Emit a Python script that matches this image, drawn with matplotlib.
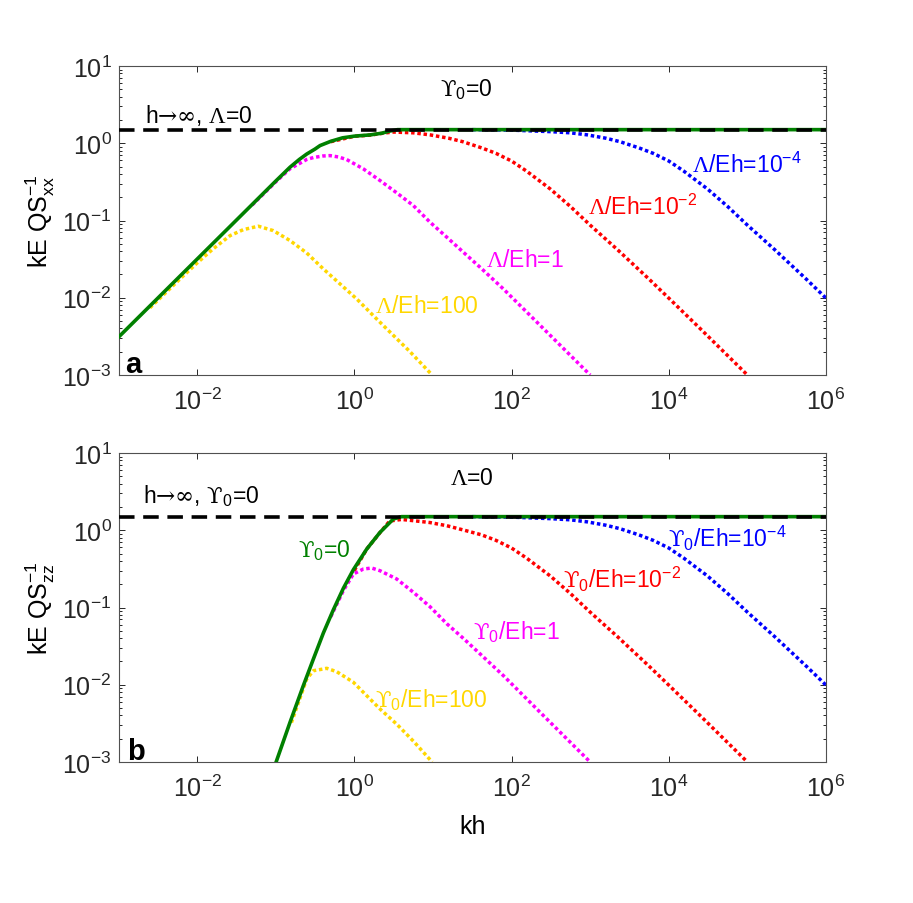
import numpy as np
import matplotlib
matplotlib.use("Agg")
import matplotlib.pyplot as plt
from matplotlib.ticker import FixedLocator, LogLocator, NullLocator, LogFormatterSciNotation

plt.rcParams['font.family'] = ['Liberation Sans', 'DejaVu Sans']
plt.rcParams['mathtext.fontset'] = 'custom'
plt.rcParams['mathtext.rm'] = 'Liberation Serif'
plt.rcParams['mathtext.cal'] = 'DejaVu Serif'
plt.rcParams['mathtext.sf'] = 'Liberation Sans'
plt.rcParams['mathtext.it'] = 'Liberation Sans:italic'

W, H = 913, 904

# ---------------- data (log10 kh, log10 kE Q S^-1) ----------------
asym_x = [1e-3, 1e6]
asym_y = [1.5, 1.5]

# panel a  (S_xx, Upsilon0 = 0)
a_green_lx = [-3.0, -2.5, -2.0, -1.5, -1.0, -0.818, -0.7, -0.606, -0.5, -0.436, -0.3, -0.15,
              0.0, 0.2, 0.35, 0.45, 0.55, 6.0]
a_green_ly = [-2.51, -2.005, -1.50, -0.995, -0.49, -0.31, -0.21, -0.14, -0.075, -0.03, 0.025, 0.07,
              0.092, 0.108, 0.13, 0.158, 0.176, 0.176]

a_yellow_lx = [-2.6, -2.2, -2.0, -1.8, -1.581, -1.412, -1.221, -1.031, -0.818, -0.606, -0.394, -0.182,
               0.031, 0.242, 0.391, 0.7, 0.99]
a_yellow_ly = [-2.13, -1.74, -1.55, -1.37, -1.196, -1.118, -1.074, -1.131, -1.26, -1.42, -1.627, -1.821,
               -2.016, -2.232, -2.382, -2.69, -3.0]

a_magenta_lx = [-1.3, -1.0, -0.818, -0.606, -0.521, -0.4, -0.309, -0.2, -0.097, 0.115, 0.327, 0.539,
                0.751, 0.963, 1.176, 1.387, 1.599, 1.896, 2.4, 3.0]
a_magenta_ly = [-0.80, -0.50, -0.33, -0.21, -0.185, -0.165, -0.16, -0.178, -0.211, -0.332, -0.483, -0.642,
                -0.807, -1.022, -1.216, -1.411, -1.605, -1.886, -2.394, -3.0]

a_red_lx = [-0.3, 0.0, 0.2, 0.4, 0.5, 0.75, 0.96, 1.2, 1.38, 1.62, 1.8, 2.0, 2.19, 2.49, 2.75, 3.0,
            3.35, 3.75, 4.0, 4.4, 5.0]
a_red_ly = [0.02, 0.09, 0.105, 0.135, 0.145, 0.135, 0.109, 0.065, 0.02, -0.06, -0.13, -0.23, -0.36,
            -0.59, -0.82, -1.06, -1.38, -1.76, -2.005, -2.40, -3.0]

a_blue_lx = [1.5, 2.0, 2.5, 2.75, 2.96, 3.2, 3.38, 3.62, 3.8, 4.0, 4.19, 4.49, 4.75, 5.0, 5.35, 5.75, 6.0]
a_blue_ly = [0.176, 0.170, 0.150, 0.135, 0.109, 0.065, 0.02, -0.06, -0.13, -0.23, -0.36, -0.59, -0.82,
             -1.06, -1.38, -1.76, -2.005]

# panel b  (S_zz, Lambda = 0)
b_green_lx = [-1.05, -0.988, -0.818, -0.649, -0.521, -0.394, -0.267, -0.139, -0.012, 0.158, 0.327,
              0.497, 0.6, 6.0]
b_green_ly = [-3.16, -2.98, -2.486, -2.012, -1.667, -1.33, -1.03, -0.75, -0.51, -0.243, -0.027,
              0.146, 0.176, 0.176]

b_yellow_lx = [-0.8, -0.649, -0.606, -0.521, -0.394, -0.351, -0.224, -0.012, 0.158, 0.327, 0.539,
               0.751, 0.99]
b_yellow_ly = [-2.49, -2.05, -1.926, -1.818, -1.796, -1.787, -1.831, -1.968, -2.142, -2.314, -2.51,
               -2.73, -3.0]

b_magenta_lx = [-0.3, -0.139, -0.012, 0.115, 0.221, 0.327, 0.539, 0.751, 0.963, 1.176, 1.387, 1.599,
                1.9, 2.4, 3.0]
b_magenta_ly = [-1.12, -0.78, -0.566, -0.502, -0.489, -0.524, -0.631, -0.803, -0.99, -1.21, -1.40,
                -1.60, -1.886, -2.394, -3.0]

b_red_lx = [0.0, 0.158, 0.327, 0.45, 0.6, 0.751, 0.96, 1.175, 1.4, 1.62, 1.8, 2.0, 2.19, 2.49, 2.75,
            3.0, 3.35, 3.75, 4.0, 4.4, 5.0]
b_red_ly = [-0.52, -0.243, -0.03, 0.12, 0.14, 0.124, 0.10, 0.059, 0.0, -0.06, -0.13, -0.23, -0.36,
            -0.59, -0.82, -1.06, -1.38, -1.76, -2.005, -2.40, -3.0]

b_blue_lx = [1.5, 2.0, 2.5, 2.75, 2.96, 3.2, 3.38, 3.62, 3.8, 4.0, 4.19, 4.49, 4.75, 5.0, 5.35, 5.75, 6.0]
b_blue_ly = [0.176, 0.170, 0.150, 0.135, 0.109, 0.065, 0.02, -0.06, -0.13, -0.23, -0.36, -0.59, -0.82,
             -1.06, -1.38, -1.76, -2.005]

xticks = [1e-2, 1e0, 1e2, 1e4, 1e6]
xlim = (1e-3, 1e6)
ylim = (1e-3, 1e1)

GREEN = '#008000'
YELLOW = '#FFD700'
MAGENTA = '#FF00FF'
RED = '#FF0000'
BLUE = '#0000FF'

UPS = r'\mathcal{ϒ}'
ARROW = r'$\mathcal{→∞}$'

# ---------------- figure ----------------
fig = plt.figure(figsize=(W / 100, H / 100), dpi=100)
ax1 = fig.add_axes([118.5 / W, 1 - 376 / H, (826 - 118.5) / W, (376 - 67) / H])
ax2 = fig.add_axes([118.5 / W, 1 - 763 / H, (826 - 118.5) / W, (763 - 454) / H])

dot = (0, (1, 0.8))
dash = (0, (4.3, 2.4))


def p(v):
    return 10 ** np.asarray(v, dtype=float)


def draw(ax, curves, green):
    for lx, ly, c in curves:
        ax.plot(p(lx), p(ly), color=c, lw=2.5, linestyle=dot, zorder=2)
    ax.plot(p(green[0]), p(green[1]), color=GREEN, lw=2.6, zorder=3)
    ax.plot(asym_x, asym_y, color='k', lw=2.6, linestyle=dash, zorder=4)


draw(ax1, [(a_yellow_lx, a_yellow_ly, YELLOW), (a_magenta_lx, a_magenta_ly, MAGENTA),
           (a_red_lx, a_red_ly, RED), (a_blue_lx, a_blue_ly, BLUE)], (a_green_lx, a_green_ly))
draw(ax2, [(b_yellow_lx, b_yellow_ly, YELLOW), (b_magenta_lx, b_magenta_ly, MAGENTA),
           (b_red_lx, b_red_ly, RED), (b_blue_lx, b_blue_ly, BLUE)], (b_green_lx, b_green_ly))

for ax in (ax1, ax2):
    ax.set_xscale('log')
    ax.set_yscale('log')
    ax.set_xlim(*xlim)
    ax.set_ylim(*ylim)
    ax.xaxis.set_major_locator(FixedLocator(xticks))
    ax.xaxis.set_minor_locator(NullLocator())
    ax.xaxis.set_major_formatter(LogFormatterSciNotation())
    ax.yaxis.set_major_locator(LogLocator(base=10, numticks=10))
    ax.yaxis.set_minor_locator(LogLocator(base=10, subs=np.arange(2, 10), numticks=20))
    ax.tick_params(which='both', direction='in', top=True, right=True, colors='#262626',
                   labelsize=18, width=0.7)
    ax.tick_params(which='major', length=4.5)
    ax.tick_params(which='minor', length=2.2)
    ax.tick_params(axis='x', pad=9)
    ax.tick_params(axis='y', pad=5)
    for s in ax.spines.values():
        s.set_color('#505050')
        s.set_linewidth(0.8)

ax1.set_ylabel(r'kE Q$\mathdefault{S}^{\mathdefault{-1}}_{\mathdefault{xx}}$', fontsize=18)
ax2.set_ylabel(r'kE Q$\mathdefault{S}^{\mathdefault{-1}}_{\mathdefault{zz}}$', fontsize=18)
ax1.yaxis.set_label_coords(-0.087, 0.5)
ax2.yaxis.set_label_coords(-0.087, 0.5)
ax2.set_xlabel('kh', fontsize=18)
ax2.xaxis.set_label_coords(0.5, -0.168)


def ft(px, py, s, color='k', size=16.5, **kw):
    fig.text(px / W, 1 - py / H, s, color=color, fontsize=size, ha='left', va='baseline', **kw)


# panel a annotations
ft(145, 123, 'h' + ARROW + r', $\Lambda$=0')
ft(440, 96, r'$' + UPS + r'_{\mathdefault{0}}$=0')
ft(375, 313, r'$\Lambda$/Eh=100', YELLOW)
ft(486, 267, r'$\Lambda$/Eh=1', MAGENTA)
ft(588, 215, r'$\Lambda$/Eh=10$^{\mathdefault{-2}}$', RED)
ft(692, 173, r'$\Lambda$/Eh=10$^{\mathdefault{-4}}$', BLUE)
ft(125, 373, 'a', size=21, fontweight='bold')

# panel b annotations
ft(143, 503, 'h' + ARROW + r', $' + UPS + r'_{\mathdefault{0}}$=0')
ft(450, 485, r'$\Lambda$=0')
ft(298, 557, r'$' + UPS + r'_{\mathdefault{0}}$=0', GREEN)
ft(375, 707, r'$' + UPS + r'_{\mathdefault{0}}$/Eh=100', YELLOW)
ft(473, 639, r'$' + UPS + r'_{\mathdefault{0}}$/Eh=1', MAGENTA)
ft(563, 588, r'$' + UPS + r'_{\mathdefault{0}}$/Eh=10$^{\mathdefault{-2}}$', RED)
ft(668, 547, r'$' + UPS + r'_{\mathdefault{0}}$/Eh=10$^{\mathdefault{-4}}$', BLUE)
ft(127, 760, 'b', size=21, fontweight='bold')

fig.savefig('out.png', dpi=100)
